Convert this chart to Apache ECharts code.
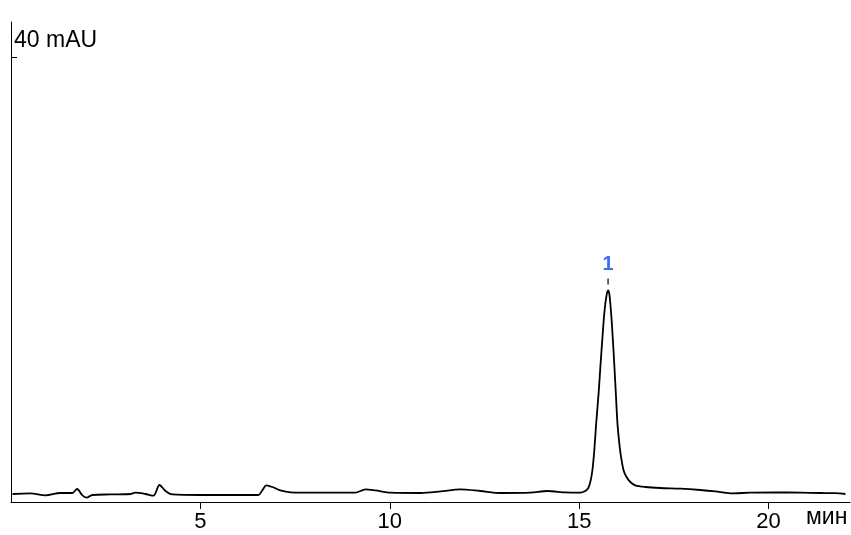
<!DOCTYPE html>
<html>
<head>
<meta charset="utf-8">
<script src="https://cdn.jsdelivr.net/npm/echarts@6/dist/echarts.min.js"></script>
<style>
  html, body { margin: 0; padding: 0; background: #fff; }
  #chart { width: 851px; height: 535px; }
</style>
</head>
<body>
<div id="chart"></div>
<script>
// retention time, min
const time = [
  0.04, 0.51, 0.91, 1.30, 1.62, 1.745, 1.885, 1.99, 2.15, 2.62, 3.15, 3.28, 3.55, 3.76, 3.92,
  4.08, 4.26, 5.0, 6.53, 6.64, 6.74, 6.90, 7.11, 7.38, 8.17, 9.09, 9.36, 9.62, 10.02, 10.81,
  11.34, 11.86, 12.39, 12.92, 13.71, 14.16, 14.64, 15.03, 15.16, 15.24, 15.30, 15.35, 15.40,
  15.45, 15.51, 15.56, 15.61, 15.665, 15.72, 15.763, 15.80, 15.85, 15.89, 15.93, 15.97, 16.01,
  16.05, 16.09, 16.17, 16.25, 16.35, 16.48, 16.75, 17.14, 17.67, 18.20, 18.60, 18.99, 19.52,
  20.18, 20.84, 21.37, 21.76, 22.03
];
// detector signal, mAU
const signal = [
  0.72, 0.77, 0.60, 0.81, 0.81, 1.17, 0.59, 0.39, 0.63, 0.68, 0.72, 0.84, 0.72, 0.57, 1.53,
  0.99, 0.68, 0.63, 0.63, 1.08, 1.50, 1.35, 1.04, 0.87, 0.84, 0.84, 1.14, 1.04, 0.84, 0.81,
  0.95, 1.14, 0.99, 0.81, 0.84, 0.99, 0.86, 0.84, 0.99, 1.26, 1.89, 2.88, 4.68,
  7.12, 9.64, 12.16, 14.59, 17.03, 18.56, 19.04, 18.65, 16.69, 14.59, 12.19, 9.64, 7.12,
  5.59, 4.41, 2.88, 2.25, 1.80, 1.50, 1.35, 1.26, 1.20, 1.08, 0.95, 0.78, 0.84,
  0.86, 0.84, 0.81, 0.79, 0.72
];
const peakNames = ['1'];
const peakTimes = [15.763];
const xTicks = [5, 10, 15, 20];
const yTickValue = 40;

const chart = echarts.init(document.getElementById('chart'));

const seriesData = time.map((t, i) => [t, signal[i]]);
const peakMarks = peakNames.map((name, i) => {
  const idx = time.indexOf(peakTimes[i]);
  return { name: name, coord: [peakTimes[i], signal[idx]], value: name };
});

chart.setOption({
  animation: false,
  grid: { left: 11, right: 1, top: 22, bottom: 33, containLabel: false },
  xAxis: {
    type: 'value',
    min: 0,
    max: 22.15,
    interval: 5,
    name: 'мин',
    nameLocation: 'end',
    nameGap: -44,
    nameTextStyle: {
      fontFamily: 'Liberation Sans',
      fontSize: 23,
      color: '#000',
      align: 'left',
      verticalAlign: 'top',
      padding: [4, 0, 0, 0]
    },
    axisLine: { lineStyle: { color: '#000', width: 1 } },
    axisTick: { length: 7, customValues: xTicks, lineStyle: { color: '#000' } },
    axisLabel: {
      fontFamily: 'Liberation Sans',
      fontSize: 22,
      color: '#000',
      margin: 9,
      customValues: xTicks
    },
    splitLine: { show: false }
  },
  yAxis: {
    type: 'value',
    min: 0,
    max: 43.2,
    interval: yTickValue,
    axisLine: { show: true, lineStyle: { color: '#000', width: 1 } },
    axisTick: { show: true, inside: true, length: 6, customValues: [yTickValue], lineStyle: { color: '#000' } },
    axisLabel: {
      inside: true,
      fontFamily: 'Liberation Sans',
      fontSize: 23,
      color: '#000',
      margin: 3,
      verticalAlign: 'bottom',
      lineHeight: 24,
      padding: [0, 0, 5, 0],
      customValues: [yTickValue],
      formatter: v => v + ' mAU'
    },
    splitLine: { show: false }
  },
  series: [{
    type: 'line',
    data: seriesData,
    symbol: 'none',
    smooth: 0.3,
    lineStyle: { color: '#000', width: 1.8 },
    markPoint: {
      symbol: 'rect',
      symbolSize: [1.5, 6],
      symbolOffset: [0, -9],
      itemStyle: { color: '#333' },
      label: {
        show: true,
        position: 'top',
        distance: 4,
        formatter: p => p.name,
        color: '#3c6ff2',
        fontFamily: 'Liberation Sans',
        fontWeight: 'bold',
        fontSize: 20
      },
      data: peakMarks
    }
  }]
});
</script>
</body>
</html>
